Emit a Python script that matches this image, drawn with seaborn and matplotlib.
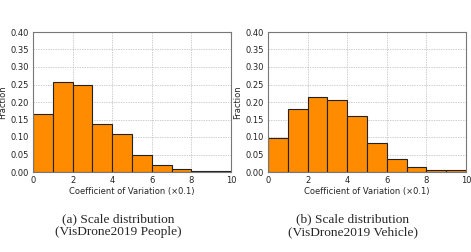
import numpy as np
import seaborn as sns
import matplotlib.pyplot as plt

bin_edges = [0, 1, 2, 3, 4, 5, 6, 7, 8, 9, 10]
bin_centers = [0.5, 1.5, 2.5, 3.5, 4.5, 5.5, 6.5, 7.5, 8.5, 9.5]
people_frac = [0.165, 0.257, 0.248, 0.137, 0.110, 0.048, 0.021, 0.009, 0.003, 0.003]
vehicle_frac = [0.097, 0.179, 0.214, 0.205, 0.160, 0.084, 0.038, 0.015, 0.006, 0.006]
captions = ["(a) Scale distribution\n(VisDrone2019 People)",
            "(b) Scale distribution\n(VisDrone2019 Vehicle)"]

sns.set_style("white")
fig = plt.figure(figsize=(4.71, 2.52), dpi=100)
positions = [[33 / 471, 1 - 172 / 252, 198 / 471, 140 / 252],
             [268 / 471, 1 - 172 / 252, 198 / 471, 140 / 252]]
caption_x = [118 / 471, 353 / 471]

for pos, vals, cap, cx in zip(positions, [people_frac, vehicle_frac], captions, caption_x):
    ax = fig.add_axes(pos)
    sns.histplot(x=bin_centers, weights=vals, bins=bin_edges, ax=ax,
                 color="#ff8c00", alpha=1.0, edgecolor="#222222", linewidth=0.8)
    ax.set_xlim(0, 10)
    ax.set_ylim(0, 0.4)
    ax.set_xticks([0, 2, 4, 6, 8, 10])
    ax.set_yticks(np.arange(0, 0.41, 0.05))
    ax.set_yticklabels([f"{v:.2f}" for v in np.arange(0, 0.41, 0.05)])
    ax.tick_params(labelsize=6, length=2, width=0.6, pad=1, colors="#222222")
    ax.grid(True, linestyle=(0, (2, 1.5)), color="#bbbbbb", linewidth=0.5)
    ax.set_axisbelow(True)
    for s in ax.spines.values():
        s.set_color("#777777")
        s.set_linewidth(0.8)
    ax.set_xlabel("Coefficient of Variation (×0.1)", fontsize=6, labelpad=1)
    ax.set_ylabel("Fraction", fontsize=6, labelpad=2)
    fig.text(cx, 1 - 226 / 252, cap, ha="center", va="center",
             fontsize=9.6, family="Liberation Serif", linespacing=1.1)

plt.savefig("out.png", dpi=100)
